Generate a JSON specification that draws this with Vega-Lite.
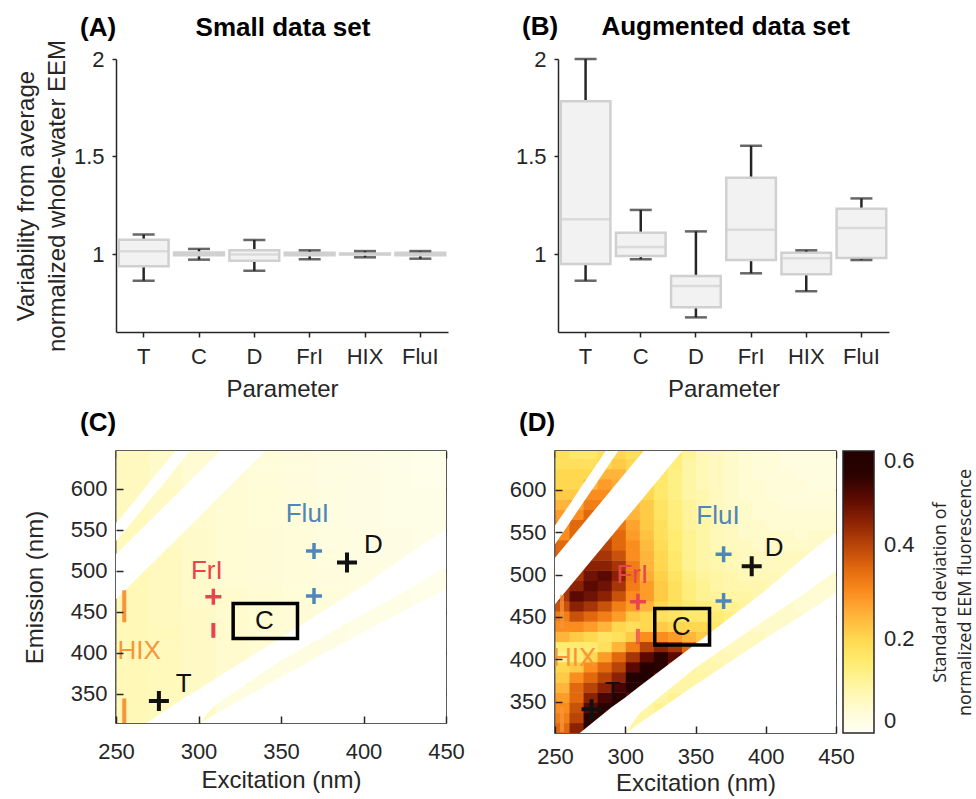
{
"$schema":"https://vega.github.io/schema/vega-lite/v6.json",
"background":"white",
"padding":{"left":14,"top":14,"right":0,"bottom":0},
"config":{
"font":"Liberation Sans",
"view":{"stroke":null},
"axis":{"labelFontSize":22,"titleFontSize":24,"labelColor":"#262626","titleColor":"#262626","domainColor":"#262626","tickColor":"#262626","titleFontWeight":"normal","grid":false,"domainWidth":1.5,"tickWidth":1.5,"labelFont":"Liberation Sans","titleFont":"Liberation Sans"},
"title":{"fontSize":26,"fontWeight":"bold","color":"#000","anchor":"start","frame":"group","font":"Liberation Sans"}
},
"datasets":{
"boxA":[
{"param":"T","lo":0.863,"q1":0.937,"med":1.014,"q3":1.073,"hi":1.1},
{"param":"C","lo":0.971,"q1":0.993,"med":1.0,"q3":1.008,"hi":1.026},
{"param":"D","lo":0.914,"q1":0.966,"med":0.998,"q3":1.019,"hi":1.072},
{"param":"FrI","lo":0.973,"q1":0.993,"med":1.0,"q3":1.007,"hi":1.019},
{"param":"HIX","lo":0.983,"q1":0.997,"med":1.0,"q3":1.003,"hi":1.015},
{"param":"FluI","lo":0.976,"q1":0.994,"med":1.0,"q3":1.006,"hi":1.015}],
"boxB":[
{"param":"T","lo":0.863,"q1":0.949,"med":1.178,"q3":1.783,"hi":2.0},
{"param":"C","lo":0.973,"q1":0.99,"med":1.036,"q3":1.109,"hi":1.226},
{"param":"D","lo":0.675,"q1":0.727,"med":0.836,"q3":0.887,"hi":1.116},
{"param":"FrI","lo":0.901,"q1":0.969,"med":1.125,"q3":1.391,"hi":1.555},
{"param":"HIX","lo":0.809,"q1":0.896,"med":0.978,"q3":1.007,"hi":1.019},
{"param":"FluI","lo":0.969,"q1":0.979,"med":1.133,"q3":1.232,"hi":1.285}],
"crossBig":[{"g":"T","ex":276,"em":341},{"g":"D","ex":390,"em":510}],
"crossSmall":[{"g":"FluI","ex":370,"em":524},{"g":"FluI","ex":370,"em":469},{"g":"FrI","ex":309,"em":468}],
"bars":[{"g":"HIX","ex":255,"lo":437,"hi":476},{"g":"HIX","ex":255,"lo":314,"hi":344},{"g":"FrI","ex":309,"lo":418,"hi":436}],
"labels":[{"g":"T","t":"T","ex":291,"em":362},{"g":"D","t":"D","ex":406,"em":531},{"g":"FluI","t":"FluI","ex":366,"em":569},{"g":"FrI","t":"FrI","ex":305,"em":500},{"g":"HIX","t":"HIX","ex":264,"em":402},{"g":"C","t":"C","ex":340,"em":438}],
"cbox":[{"ex1":321,"ex2":360,"em1":417,"em2":460}],
"maskW1":[{"ex":250,"lo":300,"hi":285},{"ex":258,"lo":300,"hi":300},{"ex":290,"lo":300,"hi":343},{"ex":300,"lo":313,"hi":355},{"ex":310,"lo":336,"hi":368},{"ex":350,"lo":390,"hi":418},{"ex":398,"lo":445,"hi":479},{"ex":430,"lo":480,"hi":524},{"ex":452,"lo":507,"hi":553}],
"maskW2":[{"ex":300,"lo":300,"hi":313},{"ex":350,"lo":300,"hi":370},{"ex":400,"lo":300,"hi":425},{"ex":452,"lo":300,"hi":480}],
"maskThick":[{"ex":245,"lo":455,"hi":510},{"ex":345,"lo":655,"hi":710}],
"maskThin":[{"ex":245,"lo":524,"hi":546},{"ex":250,"lo":536,"hi":558},{"ex":260,"lo":560,"hi":582},{"ex":270,"lo":585,"hi":607},{"ex":280,"lo":609,"hi":631},{"ex":290,"lo":634,"hi":656},{"ex":300,"lo":658,"hi":680}],
"heatC":[
{"ex":250,"em":313,"v":0.08},{"ex":250,"em":337,"v":0.08},{"ex":250,"em":361,"v":0.08},{"ex":250,"em":385,"v":0.08},{"ex":250,"em":409,"v":0.08},{"ex":250,"em":433,"v":0.08},{"ex":250,"em":457,"v":0.08},{"ex":250,"em":481,"v":0.08},{"ex":250,"em":505,"v":0.075},{"ex":250,"em":529,"v":0.075},{"ex":250,"em":553,"v":0.075},{"ex":250,"em":577,"v":0.07},{"ex":250,"em":601,"v":0.07},{"ex":250,"em":625,"v":0.07},
{"ex":270,"em":313,"v":0.075},{"ex":270,"em":337,"v":0.075},{"ex":270,"em":361,"v":0.075},{"ex":270,"em":385,"v":0.075},{"ex":270,"em":409,"v":0.075},{"ex":270,"em":433,"v":0.07},{"ex":270,"em":457,"v":0.07},{"ex":270,"em":481,"v":0.07},{"ex":270,"em":505,"v":0.07},{"ex":270,"em":529,"v":0.065},{"ex":270,"em":553,"v":0.065},{"ex":270,"em":577,"v":0.065},{"ex":270,"em":601,"v":0.06},{"ex":270,"em":625,"v":0.06},
{"ex":290,"em":313,"v":0.065},{"ex":290,"em":337,"v":0.065},{"ex":290,"em":361,"v":0.065},{"ex":290,"em":385,"v":0.065},{"ex":290,"em":409,"v":0.065},{"ex":290,"em":433,"v":0.065},{"ex":290,"em":457,"v":0.06},{"ex":290,"em":481,"v":0.06},{"ex":290,"em":505,"v":0.06},{"ex":290,"em":529,"v":0.06},{"ex":290,"em":553,"v":0.055},{"ex":290,"em":577,"v":0.055},{"ex":290,"em":601,"v":0.05},{"ex":290,"em":625,"v":0.05},
{"ex":310,"em":313,"v":0.03},{"ex":310,"em":337,"v":0.03},{"ex":310,"em":361,"v":0.055},{"ex":310,"em":385,"v":0.055},{"ex":310,"em":409,"v":0.055},{"ex":310,"em":433,"v":0.055},{"ex":310,"em":457,"v":0.055},{"ex":310,"em":481,"v":0.05},{"ex":310,"em":505,"v":0.05},{"ex":310,"em":529,"v":0.05},{"ex":310,"em":553,"v":0.05},{"ex":310,"em":577,"v":0.048},{"ex":310,"em":601,"v":0.045},{"ex":310,"em":625,"v":0.045},
{"ex":330,"em":313,"v":0.03},{"ex":330,"em":337,"v":0.03},{"ex":330,"em":361,"v":0.03},{"ex":330,"em":385,"v":0.05},{"ex":330,"em":409,"v":0.05},{"ex":330,"em":433,"v":0.048},{"ex":330,"em":457,"v":0.048},{"ex":330,"em":481,"v":0.045},{"ex":330,"em":505,"v":0.045},{"ex":330,"em":529,"v":0.045},{"ex":330,"em":553,"v":0.042},{"ex":330,"em":577,"v":0.042},{"ex":330,"em":601,"v":0.04},{"ex":330,"em":625,"v":0.04},
{"ex":350,"em":313,"v":0.028},{"ex":350,"em":337,"v":0.028},{"ex":350,"em":361,"v":0.028},{"ex":350,"em":385,"v":0.028},{"ex":350,"em":409,"v":0.045},{"ex":350,"em":433,"v":0.045},{"ex":350,"em":457,"v":0.042},{"ex":350,"em":481,"v":0.04},{"ex":350,"em":505,"v":0.04},{"ex":350,"em":529,"v":0.038},{"ex":350,"em":553,"v":0.038},{"ex":350,"em":577,"v":0.036},{"ex":350,"em":601,"v":0.035},{"ex":350,"em":625,"v":0.034},
{"ex":370,"em":313,"v":0.025},{"ex":370,"em":337,"v":0.025},{"ex":370,"em":361,"v":0.025},{"ex":370,"em":385,"v":0.025},{"ex":370,"em":409,"v":0.025},{"ex":370,"em":433,"v":0.038},{"ex":370,"em":457,"v":0.036},{"ex":370,"em":481,"v":0.034},{"ex":370,"em":505,"v":0.033},{"ex":370,"em":529,"v":0.032},{"ex":370,"em":553,"v":0.031},{"ex":370,"em":577,"v":0.03},{"ex":370,"em":601,"v":0.028},{"ex":370,"em":625,"v":0.028},
{"ex":390,"em":313,"v":0.022},{"ex":390,"em":337,"v":0.022},{"ex":390,"em":361,"v":0.022},{"ex":390,"em":385,"v":0.022},{"ex":390,"em":409,"v":0.022},{"ex":390,"em":433,"v":0.022},{"ex":390,"em":457,"v":0.03},{"ex":390,"em":481,"v":0.03},{"ex":390,"em":505,"v":0.028},{"ex":390,"em":529,"v":0.027},{"ex":390,"em":553,"v":0.026},{"ex":390,"em":577,"v":0.025},{"ex":390,"em":601,"v":0.024},{"ex":390,"em":625,"v":0.024},
{"ex":410,"em":313,"v":0.02},{"ex":410,"em":337,"v":0.02},{"ex":410,"em":361,"v":0.02},{"ex":410,"em":385,"v":0.02},{"ex":410,"em":409,"v":0.02},{"ex":410,"em":433,"v":0.02},{"ex":410,"em":457,"v":0.02},{"ex":410,"em":481,"v":0.025},{"ex":410,"em":505,"v":0.025},{"ex":410,"em":529,"v":0.024},{"ex":410,"em":553,"v":0.023},{"ex":410,"em":577,"v":0.022},{"ex":410,"em":601,"v":0.021},{"ex":410,"em":625,"v":0.02},
{"ex":430,"em":313,"v":0.018},{"ex":430,"em":337,"v":0.018},{"ex":430,"em":361,"v":0.018},{"ex":430,"em":385,"v":0.018},{"ex":430,"em":409,"v":0.018},{"ex":430,"em":433,"v":0.018},{"ex":430,"em":457,"v":0.018},{"ex":430,"em":481,"v":0.018},{"ex":430,"em":505,"v":0.022},{"ex":430,"em":529,"v":0.021},{"ex":430,"em":553,"v":0.02},{"ex":430,"em":577,"v":0.02},{"ex":430,"em":601,"v":0.019},{"ex":430,"em":625,"v":0.018}
],
"heatD":[
{"ex":250,"em":313,"v":0.35},{"ex":250,"em":325,"v":0.32},{"ex":250,"em":337,"v":0.3},{"ex":250,"em":349,"v":0.28},{"ex":250,"em":361,"v":0.25},{"ex":250,"em":373,"v":0.22},{"ex":250,"em":385,"v":0.2},{"ex":250,"em":397,"v":0.12},{"ex":250,"em":409,"v":0.15},{"ex":250,"em":421,"v":0.25},{"ex":250,"em":433,"v":0.3},{"ex":250,"em":445,"v":0.32},{"ex":250,"em":457,"v":0.38},{"ex":250,"em":469,"v":0.42},{"ex":250,"em":481,"v":0.42},{"ex":250,"em":493,"v":0.4},{"ex":250,"em":505,"v":0.38},{"ex":250,"em":517,"v":0.36},{"ex":250,"em":529,"v":0.35},{"ex":250,"em":541,"v":0.3},{"ex":250,"em":553,"v":0.3},{"ex":250,"em":565,"v":0.28},{"ex":250,"em":577,"v":0.25},{"ex":250,"em":589,"v":0.22},{"ex":250,"em":601,"v":0.2},{"ex":250,"em":613,"v":0.2},{"ex":250,"em":625,"v":0.18},{"ex":250,"em":637,"v":0.18},
{"ex":260,"em":313,"v":0.45},{"ex":260,"em":325,"v":0.4},{"ex":260,"em":337,"v":0.38},{"ex":260,"em":349,"v":0.35},{"ex":260,"em":361,"v":0.35},{"ex":260,"em":373,"v":0.3},{"ex":260,"em":385,"v":0.22},{"ex":260,"em":397,"v":0.15},{"ex":260,"em":409,"v":0.15},{"ex":260,"em":421,"v":0.22},{"ex":260,"em":433,"v":0.3},{"ex":260,"em":445,"v":0.38},{"ex":260,"em":457,"v":0.45},{"ex":260,"em":469,"v":0.5},{"ex":260,"em":481,"v":0.45},{"ex":260,"em":493,"v":0.42},{"ex":260,"em":505,"v":0.4},{"ex":260,"em":517,"v":0.38},{"ex":260,"em":529,"v":0.36},{"ex":260,"em":541,"v":0.35},{"ex":260,"em":553,"v":0.35},{"ex":260,"em":565,"v":0.3},{"ex":260,"em":577,"v":0.27},{"ex":260,"em":589,"v":0.22},{"ex":260,"em":601,"v":0.2},{"ex":260,"em":613,"v":0.2},{"ex":260,"em":625,"v":0.18},{"ex":260,"em":637,"v":0.16},
{"ex":270,"em":313,"v":0.55},{"ex":270,"em":325,"v":0.55},{"ex":270,"em":337,"v":0.5},{"ex":270,"em":349,"v":0.45},{"ex":270,"em":361,"v":0.4},{"ex":270,"em":373,"v":0.35},{"ex":270,"em":385,"v":0.3},{"ex":270,"em":397,"v":0.2},{"ex":270,"em":409,"v":0.15},{"ex":270,"em":421,"v":0.2},{"ex":270,"em":433,"v":0.28},{"ex":270,"em":445,"v":0.35},{"ex":270,"em":457,"v":0.42},{"ex":270,"em":469,"v":0.48},{"ex":270,"em":481,"v":0.5},{"ex":270,"em":493,"v":0.48},{"ex":270,"em":505,"v":0.45},{"ex":270,"em":517,"v":0.42},{"ex":270,"em":529,"v":0.4},{"ex":270,"em":541,"v":0.38},{"ex":270,"em":553,"v":0.36},{"ex":270,"em":565,"v":0.35},{"ex":270,"em":577,"v":0.32},{"ex":270,"em":589,"v":0.3},{"ex":270,"em":601,"v":0.25},{"ex":270,"em":613,"v":0.2},{"ex":270,"em":625,"v":0.18},{"ex":270,"em":637,"v":0.16},
{"ex":280,"em":325,"v":0.55},{"ex":280,"em":337,"v":0.55},{"ex":280,"em":349,"v":0.52},{"ex":280,"em":361,"v":0.45},{"ex":280,"em":373,"v":0.4},{"ex":280,"em":385,"v":0.35},{"ex":280,"em":397,"v":0.28},{"ex":280,"em":409,"v":0.18},{"ex":280,"em":421,"v":0.17},{"ex":280,"em":433,"v":0.25},{"ex":280,"em":445,"v":0.32},{"ex":280,"em":457,"v":0.38},{"ex":280,"em":469,"v":0.45},{"ex":280,"em":481,"v":0.48},{"ex":280,"em":493,"v":0.5},{"ex":280,"em":505,"v":0.45},{"ex":280,"em":517,"v":0.42},{"ex":280,"em":529,"v":0.4},{"ex":280,"em":541,"v":0.38},{"ex":280,"em":553,"v":0.36},{"ex":280,"em":565,"v":0.34},{"ex":280,"em":577,"v":0.32},{"ex":280,"em":589,"v":0.3},{"ex":280,"em":601,"v":0.28},{"ex":280,"em":613,"v":0.25},{"ex":280,"em":625,"v":0.2},{"ex":280,"em":637,"v":0.18},
{"ex":290,"em":337,"v":0.55},{"ex":290,"em":349,"v":0.55},{"ex":290,"em":361,"v":0.52},{"ex":290,"em":373,"v":0.45},{"ex":290,"em":385,"v":0.4},{"ex":290,"em":397,"v":0.35},{"ex":290,"em":409,"v":0.25},{"ex":290,"em":421,"v":0.18},{"ex":290,"em":433,"v":0.2},{"ex":290,"em":445,"v":0.28},{"ex":290,"em":457,"v":0.32},{"ex":290,"em":469,"v":0.38},{"ex":290,"em":481,"v":0.42},{"ex":290,"em":493,"v":0.45},{"ex":290,"em":505,"v":0.42},{"ex":290,"em":517,"v":0.38},{"ex":290,"em":529,"v":0.35},{"ex":290,"em":541,"v":0.35},{"ex":290,"em":553,"v":0.33},{"ex":290,"em":565,"v":0.31},{"ex":290,"em":577,"v":0.29},{"ex":290,"em":589,"v":0.27},{"ex":290,"em":601,"v":0.26},{"ex":290,"em":613,"v":0.25},{"ex":290,"em":625,"v":0.22},{"ex":290,"em":637,"v":0.2},
{"ex":300,"em":313,"v":0.1},{"ex":300,"em":325,"v":0.1},{"ex":300,"em":337,"v":0.1},{"ex":300,"em":349,"v":0.5},{"ex":300,"em":361,"v":0.58},{"ex":300,"em":373,"v":0.6},{"ex":300,"em":385,"v":0.5},{"ex":300,"em":397,"v":0.42},{"ex":300,"em":409,"v":0.32},{"ex":300,"em":421,"v":0.22},{"ex":300,"em":433,"v":0.18},{"ex":300,"em":445,"v":0.22},{"ex":300,"em":457,"v":0.28},{"ex":300,"em":469,"v":0.3},{"ex":300,"em":481,"v":0.32},{"ex":300,"em":493,"v":0.33},{"ex":300,"em":505,"v":0.32},{"ex":300,"em":517,"v":0.3},{"ex":300,"em":529,"v":0.3},{"ex":300,"em":541,"v":0.28},{"ex":300,"em":553,"v":0.27},{"ex":300,"em":565,"v":0.25},{"ex":300,"em":577,"v":0.24},{"ex":300,"em":589,"v":0.23},{"ex":300,"em":601,"v":0.22},{"ex":300,"em":613,"v":0.21},{"ex":300,"em":625,"v":0.2},{"ex":300,"em":637,"v":0.18},
{"ex":310,"em":313,"v":0.1},{"ex":310,"em":325,"v":0.1},{"ex":310,"em":337,"v":0.1},{"ex":310,"em":349,"v":0.1},{"ex":310,"em":361,"v":0.55},{"ex":310,"em":373,"v":0.6},{"ex":310,"em":385,"v":0.58},{"ex":310,"em":397,"v":0.5},{"ex":310,"em":409,"v":0.4},{"ex":310,"em":421,"v":0.3},{"ex":310,"em":433,"v":0.2},{"ex":310,"em":445,"v":0.2},{"ex":310,"em":457,"v":0.25},{"ex":310,"em":469,"v":0.28},{"ex":310,"em":481,"v":0.28},{"ex":310,"em":493,"v":0.26},{"ex":310,"em":505,"v":0.25},{"ex":310,"em":517,"v":0.25},{"ex":310,"em":529,"v":0.24},{"ex":310,"em":541,"v":0.23},{"ex":310,"em":553,"v":0.22},{"ex":310,"em":565,"v":0.22},{"ex":310,"em":577,"v":0.22},{"ex":310,"em":589,"v":0.2},{"ex":310,"em":601,"v":0.2},{"ex":310,"em":613,"v":0.2},{"ex":310,"em":625,"v":0.2},{"ex":310,"em":637,"v":0.2},
{"ex":320,"em":325,"v":0.1},{"ex":320,"em":337,"v":0.12},{"ex":320,"em":349,"v":0.1},{"ex":320,"em":361,"v":0.1},{"ex":320,"em":373,"v":0.5},{"ex":320,"em":385,"v":0.55},{"ex":320,"em":397,"v":0.55},{"ex":320,"em":409,"v":0.45},{"ex":320,"em":421,"v":0.3},{"ex":320,"em":433,"v":0.22},{"ex":320,"em":445,"v":0.18},{"ex":320,"em":457,"v":0.2},{"ex":320,"em":469,"v":0.22},{"ex":320,"em":481,"v":0.22},{"ex":320,"em":493,"v":0.21},{"ex":320,"em":505,"v":0.2},{"ex":320,"em":517,"v":0.2},{"ex":320,"em":529,"v":0.19},{"ex":320,"em":541,"v":0.18},{"ex":320,"em":553,"v":0.18},{"ex":320,"em":565,"v":0.17},{"ex":320,"em":577,"v":0.17},{"ex":320,"em":589,"v":0.16},{"ex":320,"em":601,"v":0.16},{"ex":320,"em":613,"v":0.16},{"ex":320,"em":625,"v":0.16},{"ex":320,"em":637,"v":0.16},
{"ex":330,"em":337,"v":0.12},{"ex":330,"em":349,"v":0.12},{"ex":330,"em":361,"v":0.1},{"ex":330,"em":373,"v":0.1},{"ex":330,"em":385,"v":0.45},{"ex":330,"em":397,"v":0.5},{"ex":330,"em":409,"v":0.42},{"ex":330,"em":421,"v":0.28},{"ex":330,"em":433,"v":0.2},{"ex":330,"em":445,"v":0.17},{"ex":330,"em":457,"v":0.17},{"ex":330,"em":469,"v":0.18},{"ex":330,"em":481,"v":0.18},{"ex":330,"em":493,"v":0.17},{"ex":330,"em":505,"v":0.16},{"ex":330,"em":517,"v":0.16},{"ex":330,"em":529,"v":0.15},{"ex":330,"em":541,"v":0.15},{"ex":330,"em":553,"v":0.14},{"ex":330,"em":565,"v":0.14},{"ex":330,"em":577,"v":0.14},{"ex":330,"em":589,"v":0.13},{"ex":330,"em":601,"v":0.13},{"ex":330,"em":613,"v":0.13},{"ex":330,"em":625,"v":0.14},{"ex":330,"em":637,"v":0.14},
{"ex":340,"em":349,"v":0.1},{"ex":340,"em":361,"v":0.1},{"ex":340,"em":373,"v":0.1},{"ex":340,"em":385,"v":0.1},{"ex":340,"em":397,"v":0.4},{"ex":340,"em":409,"v":0.35},{"ex":340,"em":421,"v":0.25},{"ex":340,"em":433,"v":0.2},{"ex":340,"em":445,"v":0.16},{"ex":340,"em":457,"v":0.15},{"ex":340,"em":469,"v":0.14},{"ex":340,"em":481,"v":0.14},{"ex":340,"em":493,"v":0.13},{"ex":340,"em":505,"v":0.12},{"ex":340,"em":517,"v":0.12},{"ex":340,"em":529,"v":0.12},{"ex":340,"em":541,"v":0.12},{"ex":340,"em":553,"v":0.11},{"ex":340,"em":565,"v":0.11},{"ex":340,"em":577,"v":0.11},{"ex":340,"em":589,"v":0.1},{"ex":340,"em":601,"v":0.1},{"ex":340,"em":613,"v":0.1},{"ex":340,"em":625,"v":0.1},{"ex":340,"em":637,"v":0.11},
{"ex":350,"em":361,"v":0.1},{"ex":350,"em":373,"v":0.1},{"ex":350,"em":385,"v":0.09},{"ex":350,"em":397,"v":0.09},{"ex":350,"em":409,"v":0.25},{"ex":350,"em":421,"v":0.22},{"ex":350,"em":433,"v":0.2},{"ex":350,"em":445,"v":0.16},{"ex":350,"em":457,"v":0.14},{"ex":350,"em":469,"v":0.12},{"ex":350,"em":481,"v":0.12},{"ex":350,"em":493,"v":0.11},{"ex":350,"em":505,"v":0.1},{"ex":350,"em":517,"v":0.1},{"ex":350,"em":529,"v":0.1},{"ex":350,"em":541,"v":0.1},{"ex":350,"em":553,"v":0.1},{"ex":350,"em":565,"v":0.09},{"ex":350,"em":577,"v":0.09},{"ex":350,"em":589,"v":0.09},{"ex":350,"em":601,"v":0.08},{"ex":350,"em":613,"v":0.08},{"ex":350,"em":625,"v":0.08},{"ex":350,"em":637,"v":0.08},
{"ex":360,"em":373,"v":0.09},{"ex":360,"em":385,"v":0.09},{"ex":360,"em":397,"v":0.08},{"ex":360,"em":409,"v":0.08},{"ex":360,"em":421,"v":0.17},{"ex":360,"em":433,"v":0.16},{"ex":360,"em":445,"v":0.15},{"ex":360,"em":457,"v":0.13},{"ex":360,"em":469,"v":0.11},{"ex":360,"em":481,"v":0.1},{"ex":360,"em":493,"v":0.1},{"ex":360,"em":505,"v":0.09},{"ex":360,"em":517,"v":0.09},{"ex":360,"em":529,"v":0.08},{"ex":360,"em":541,"v":0.08},{"ex":360,"em":553,"v":0.08},{"ex":360,"em":565,"v":0.08},{"ex":360,"em":577,"v":0.07},{"ex":360,"em":589,"v":0.07},{"ex":360,"em":601,"v":0.07},{"ex":360,"em":613,"v":0.07},{"ex":360,"em":625,"v":0.07},{"ex":360,"em":637,"v":0.07},
{"ex":370,"em":385,"v":0.08},{"ex":370,"em":397,"v":0.08},{"ex":370,"em":409,"v":0.07},{"ex":370,"em":421,"v":0.07},{"ex":370,"em":433,"v":0.14},{"ex":370,"em":445,"v":0.13},{"ex":370,"em":457,"v":0.12},{"ex":370,"em":469,"v":0.1},{"ex":370,"em":481,"v":0.09},{"ex":370,"em":493,"v":0.09},{"ex":370,"em":505,"v":0.08},{"ex":370,"em":517,"v":0.08},{"ex":370,"em":529,"v":0.07},{"ex":370,"em":541,"v":0.07},{"ex":370,"em":553,"v":0.07},{"ex":370,"em":565,"v":0.07},{"ex":370,"em":577,"v":0.06},{"ex":370,"em":589,"v":0.06},{"ex":370,"em":601,"v":0.06},{"ex":370,"em":613,"v":0.06},{"ex":370,"em":625,"v":0.06},{"ex":370,"em":637,"v":0.06},
{"ex":380,"em":397,"v":0.07},{"ex":380,"em":409,"v":0.07},{"ex":380,"em":421,"v":0.07},{"ex":380,"em":433,"v":0.07},{"ex":380,"em":445,"v":0.12},{"ex":380,"em":457,"v":0.11},{"ex":380,"em":469,"v":0.1},{"ex":380,"em":481,"v":0.09},{"ex":380,"em":493,"v":0.08},{"ex":380,"em":505,"v":0.08},{"ex":380,"em":517,"v":0.07},{"ex":380,"em":529,"v":0.07},{"ex":380,"em":541,"v":0.06},{"ex":380,"em":553,"v":0.06},{"ex":380,"em":565,"v":0.06},{"ex":380,"em":577,"v":0.06},{"ex":380,"em":589,"v":0.05},{"ex":380,"em":601,"v":0.05},{"ex":380,"em":613,"v":0.05},{"ex":380,"em":625,"v":0.05},{"ex":380,"em":637,"v":0.05},
{"ex":390,"em":409,"v":0.07},{"ex":390,"em":421,"v":0.07},{"ex":390,"em":433,"v":0.06},{"ex":390,"em":445,"v":0.06},{"ex":390,"em":457,"v":0.1},{"ex":390,"em":469,"v":0.09},{"ex":390,"em":481,"v":0.09},{"ex":390,"em":493,"v":0.08},{"ex":390,"em":505,"v":0.07},{"ex":390,"em":517,"v":0.07},{"ex":390,"em":529,"v":0.06},{"ex":390,"em":541,"v":0.06},{"ex":390,"em":553,"v":0.06},{"ex":390,"em":565,"v":0.05},{"ex":390,"em":577,"v":0.05},{"ex":390,"em":589,"v":0.05},{"ex":390,"em":601,"v":0.05},{"ex":390,"em":613,"v":0.04},{"ex":390,"em":625,"v":0.04},{"ex":390,"em":637,"v":0.04},
{"ex":400,"em":421,"v":0.06},{"ex":400,"em":433,"v":0.06},{"ex":400,"em":445,"v":0.06},{"ex":400,"em":457,"v":0.06},{"ex":400,"em":469,"v":0.08},{"ex":400,"em":481,"v":0.08},{"ex":400,"em":493,"v":0.08},{"ex":400,"em":505,"v":0.07},{"ex":400,"em":517,"v":0.07},{"ex":400,"em":529,"v":0.06},{"ex":400,"em":541,"v":0.06},{"ex":400,"em":553,"v":0.05},{"ex":400,"em":565,"v":0.05},{"ex":400,"em":577,"v":0.05},{"ex":400,"em":589,"v":0.04},{"ex":400,"em":601,"v":0.04},{"ex":400,"em":613,"v":0.04},{"ex":400,"em":625,"v":0.04},{"ex":400,"em":637,"v":0.04},
{"ex":410,"em":433,"v":0.06},{"ex":410,"em":445,"v":0.06},{"ex":410,"em":457,"v":0.06},{"ex":410,"em":469,"v":0.06},{"ex":410,"em":481,"v":0.07},{"ex":410,"em":493,"v":0.07},{"ex":410,"em":505,"v":0.07},{"ex":410,"em":517,"v":0.07},{"ex":410,"em":529,"v":0.06},{"ex":410,"em":541,"v":0.06},{"ex":410,"em":553,"v":0.05},{"ex":410,"em":565,"v":0.05},{"ex":410,"em":577,"v":0.04},{"ex":410,"em":589,"v":0.04},{"ex":410,"em":601,"v":0.04},{"ex":410,"em":613,"v":0.04},{"ex":410,"em":625,"v":0.03},{"ex":410,"em":637,"v":0.03},
{"ex":420,"em":445,"v":0.06},{"ex":420,"em":457,"v":0.05},{"ex":420,"em":469,"v":0.05},{"ex":420,"em":481,"v":0.05},{"ex":420,"em":493,"v":0.07},{"ex":420,"em":505,"v":0.07},{"ex":420,"em":517,"v":0.07},{"ex":420,"em":529,"v":0.06},{"ex":420,"em":541,"v":0.05},{"ex":420,"em":553,"v":0.05},{"ex":420,"em":565,"v":0.05},{"ex":420,"em":577,"v":0.04},{"ex":420,"em":589,"v":0.04},{"ex":420,"em":601,"v":0.04},{"ex":420,"em":613,"v":0.03},{"ex":420,"em":625,"v":0.03},{"ex":420,"em":637,"v":0.03},
{"ex":430,"em":457,"v":0.05},{"ex":430,"em":469,"v":0.05},{"ex":430,"em":481,"v":0.05},{"ex":430,"em":493,"v":0.05},{"ex":430,"em":505,"v":0.06},{"ex":430,"em":517,"v":0.06},{"ex":430,"em":529,"v":0.06},{"ex":430,"em":541,"v":0.06},{"ex":430,"em":553,"v":0.05},{"ex":430,"em":565,"v":0.05},{"ex":430,"em":577,"v":0.04},{"ex":430,"em":589,"v":0.04},{"ex":430,"em":601,"v":0.03},{"ex":430,"em":613,"v":0.03},{"ex":430,"em":625,"v":0.03},{"ex":430,"em":637,"v":0.03},
{"ex":440,"em":457,"v":0.05},{"ex":440,"em":469,"v":0.05},{"ex":440,"em":481,"v":0.05},{"ex":440,"em":493,"v":0.05},{"ex":440,"em":505,"v":0.05},{"ex":440,"em":517,"v":0.05},{"ex":440,"em":529,"v":0.06},{"ex":440,"em":541,"v":0.06},{"ex":440,"em":553,"v":0.05},{"ex":440,"em":565,"v":0.05},{"ex":440,"em":577,"v":0.04},{"ex":440,"em":589,"v":0.04},{"ex":440,"em":601,"v":0.03},{"ex":440,"em":613,"v":0.03},{"ex":440,"em":625,"v":0.03},{"ex":440,"em":637,"v":0.03}
]
},
"spacing":8,
"resolve":{"scale":{"color":"independent"}},
"vconcat":[
{"hconcat":[
{"width":332,"height":273,
"title":{"text":"(A)\u00a0\u00a0\u00a0\u00a0\u00a0\u00a0\u00a0\u00a0\u00a0\u00a0\u00a0Small data set","dx":-36,"offset":-2},
"data":{"name":"boxA"},
"encoding":{"x":{"field":"param","type":"nominal","sort":["T","C","D","FrI","HIX","FluI"],"scale":{"paddingInner":0,"paddingOuter":0},"axis":{"labelAngle":0,"title":"Parameter","tickSize":5,"labelPadding":9,"titlePadding":10,"domainColor":"#262626"}}},
"layer":[
{"mark":{"type":"rule","color":"#262626","strokeWidth":2.5},"encoding":{"y":{"field":"lo","type":"quantitative","title":["Variability from average","normalized whole-water EEM"],"scale":{"domain":[0.6,2],"nice":false,"zero":false},"axis":{"values":[1,1.5,2],"format":"~g","tickSize":4,"labelPadding":8,"titlePadding":4,"titleLineHeight":31,"domainColor":"#262626"}},"y2":{"field":"hi"}}},
{"mark":{"type":"bar","fill":"#f2f2f2","stroke":"#d0d0d0","strokeWidth":2.5,"width":{"band":0.9}},"encoding":{"y":{"field":"q1","type":"quantitative"},"y2":{"field":"q3"}}},
{"mark":{"type":"tick","color":"#d0d0d0","thickness":2.5,"size":50},"encoding":{"y":{"field":"med","type":"quantitative"}}},
{"mark":{"type":"tick","color":"#262626","thickness":2.5,"size":22},"encoding":{"y":{"field":"lo","type":"quantitative"}}},
{"mark":{"type":"tick","color":"#262626","thickness":2.5,"size":22},"encoding":{"y":{"field":"hi","type":"quantitative"}}}
]},
{"width":331,"height":273,
"title":{"text":"(B)\u00a0\u00a0\u00a0\u00a0\u00a0\u00a0Augmented data set","dx":-36,"offset":8},
"data":{"name":"boxB"},
"encoding":{"x":{"field":"param","type":"nominal","sort":["T","C","D","FrI","HIX","FluI"],"scale":{"paddingInner":0,"paddingOuter":0},"axis":{"labelAngle":0,"title":"Parameter","tickSize":5,"labelPadding":9,"titlePadding":10,"domainColor":"#262626"}}},
"layer":[
{"mark":{"type":"rule","color":"#262626","strokeWidth":2.5},"encoding":{"y":{"field":"lo","type":"quantitative","title":null,"scale":{"domain":[0.6,2],"nice":false,"zero":false},"axis":{"values":[1,1.5,2],"format":"~g","tickSize":4,"labelPadding":8,"domainColor":"#262626"}},"y2":{"field":"hi"}}},
{"mark":{"type":"bar","fill":"#f2f2f2","stroke":"#d0d0d0","strokeWidth":2.5,"width":{"band":0.9}},"encoding":{"y":{"field":"q1","type":"quantitative"},"y2":{"field":"q3"}}},
{"mark":{"type":"tick","color":"#d0d0d0","thickness":2.5,"size":50},"encoding":{"y":{"field":"med","type":"quantitative"}}},
{"mark":{"type":"tick","color":"#262626","thickness":2.5,"size":22},"encoding":{"y":{"field":"lo","type":"quantitative"}}},
{"mark":{"type":"tick","color":"#262626","thickness":2.5,"size":22},"encoding":{"y":{"field":"hi","type":"quantitative"}}}
]}
],"spacing":67},
{"hconcat":[
{"width":330,"height":272,
"title":{"text":"(C)","dx":-36,"offset":14},
"view":{"stroke":"#262626","strokeWidth":1.5},
"resolve":{"axis":{"x":"independent","y":"independent"}},
"layer":[
{"data":{"name":"heatC"},"mark":{"type":"rect","clip":true,"strokeWidth":0},
"encoding":{
"x":{"field":"ex","type":"quantitative","bin":{"binned":true,"step":20.5},"scale":{"domain":[250,450],"nice":false,"zero":false},"axis":{"values":[250,300,350,400,450],"format":"d","title":"Excitation (nm)","tickSize":-7,"labelPadding":25,"domain":false,"labelFlush":false,"titlePadding":6}},
"y":{"field":"em","type":"quantitative","bin":{"binned":true,"step":24.5},"scale":{"domain":[314,646],"nice":false,"zero":false},"axis":{"values":[350,400,450,500,550,600],"format":"d","title":"Emission (nm)","tickSize":-7,"labelPadding":16,"domain":false,"titlePadding":23}},
"color":{"field":"v","type":"quantitative","scale":{"domain":[0,0.05,0.1,0.15,0.2,0.25,0.3,0.35,0.4,0.45,0.5,0.55,0.6],"range":["#fffff5","#fffbd2","#fff6a5","#ffec70","#ffd850","#ffb43a","#fb8c1e","#e2680e","#b84408","#8c2204","#5a0a02","#2a0200","#000000"]},"legend":null}}},
{"data":{"name":"maskW1"},"mark":{"type":"area","fill":"white","clip":true,"interpolate":"linear"},"encoding":{"x":{"field":"ex","type":"quantitative","axis":null},"y":{"field":"lo","type":"quantitative","axis":null},"y2":{"field":"hi"}}},
{"data":{"name":"maskW2"},"mark":{"type":"area","fill":"white","clip":true,"interpolate":"linear"},"encoding":{"x":{"field":"ex","type":"quantitative","axis":null},"y":{"field":"lo","type":"quantitative","axis":null},"y2":{"field":"hi"}}},
{"data":{"name":"maskThick"},"mark":{"type":"area","fill":"white","clip":true,"interpolate":"linear"},"encoding":{"x":{"field":"ex","type":"quantitative","axis":null},"y":{"field":"lo","type":"quantitative","axis":null},"y2":{"field":"hi"}}},
{"data":{"name":"maskThin"},"mark":{"type":"area","fill":"white","clip":true,"interpolate":"linear"},"encoding":{"x":{"field":"ex","type":"quantitative","axis":null},"y":{"field":"lo","type":"quantitative","axis":null},"y2":{"field":"hi"}}},
{"data":{"name":"cbox"},"mark":{"type":"rect","fillOpacity":0,"stroke":"#000","strokeWidth":3.5},
"encoding":{
"x":{"field":"ex1","type":"quantitative","axis":{"orient":"top","labels":false,"title":null,"domain":false,"tickSize":-7,"values":[250,300,350,400,450]}},
"x2":{"field":"ex2"},
"y":{"field":"em1","type":"quantitative","axis":{"orient":"right","labels":false,"title":null,"domain":false,"tickSize":-7,"values":[350,400,450,500,550,600]}},
"y2":{"field":"em2"}}},
{"data":{"name":"crossBig"},"mark":{"type":"point","shape":"M-1,0H1M0,-1V1","size":400,"strokeWidth":4,"filled":false,"opacity":1},
"encoding":{"x":{"field":"ex","type":"quantitative","axis":null},"y":{"field":"em","type":"quantitative","axis":null},
"stroke":{"field":"g","type":"nominal","scale":{"domain":["T","D","C","FluI","FrI","HIX"],"range":["#111111","#111111","#111111","#4f87ba","#e8434e","#f7953b"]},"legend":null}}},
{"data":{"name":"crossSmall"},"mark":{"type":"point","shape":"M-1,0H1M0,-1V1","size":256,"strokeWidth":3.5,"filled":false,"opacity":1},
"encoding":{"x":{"field":"ex","type":"quantitative","axis":null},"y":{"field":"em","type":"quantitative","axis":null},
"stroke":{"field":"g","type":"nominal","legend":null}}},
{"data":{"name":"bars"},"mark":{"type":"rule","strokeWidth":4},
"encoding":{"x":{"field":"ex","type":"quantitative","axis":null},"y":{"field":"lo","type":"quantitative","axis":null},"y2":{"field":"hi"},
"stroke":{"field":"g","type":"nominal","legend":null}}},
{"data":{"name":"labels"},"mark":{"type":"text","fontSize":26,"align":"center","baseline":"middle","font":"Liberation Sans"},
"encoding":{"x":{"field":"ex","type":"quantitative","axis":null},"y":{"field":"em","type":"quantitative","axis":null},"text":{"field":"t"},
"fill":{"field":"g","type":"nominal","scale":{"domain":["T","D","C","FluI","FrI","HIX"],"range":["#111111","#111111","#111111","#4f87ba","#e8434e","#f7953b"]},"legend":null}}}
]},
{"width":281,"height":282,
"title":{"text":"(D)","dx":-36,"offset":14},
"view":{"stroke":"#262626","strokeWidth":1.5},
"resolve":{"axis":{"x":"independent","y":"independent"}},
"layer":[
{"data":{"name":"heatD"},"mark":{"type":"rect","clip":true,"strokeWidth":0},
"encoding":{
"x":{"field":"ex","type":"quantitative","bin":{"binned":true,"step":10.6},"scale":{"domain":[250,450],"nice":false,"zero":false},"axis":{"values":[250,300,350,400,450],"format":"d","title":"Excitation (nm)","tickSize":-7,"labelPadding":20,"domain":false,"labelFlush":false,"titlePadding":4}},
"y":{"field":"em","type":"quantitative","bin":{"binned":true,"step":12.6},"scale":{"domain":[313,646],"nice":false,"zero":false},"axis":{"values":[350,400,450,500,550,600],"format":"d","title":null,"tickSize":-7,"labelPadding":16,"domain":false}},
"color":{"field":"v","type":"quantitative","scale":{"domain":[0,0.05,0.1,0.15,0.2,0.25,0.3,0.35,0.4,0.45,0.5,0.55,0.6],"range":["#fffff5","#fffbd2","#fff6a5","#ffec70","#ffd850","#ffb43a","#fb8c1e","#e2680e","#b84408","#8c2204","#5a0a02","#2a0200","#000000"]},
"legend":{"orient":"none","legendX":288,"legendY":0,"direction":"vertical","gradientLength":282,"gradientThickness":31,"values":[0,0.2,0.4,0.6],"format":"~g","labelFontSize":22,"labelColor":"#262626","labelOffset":10,"labelFont":"Liberation Sans","title":null,"gradientStrokeColor":"#262626","gradientStrokeWidth":1.5}}}},
{"data":{"name":"maskW1"},"mark":{"type":"area","fill":"white","clip":true,"interpolate":"linear"},"encoding":{"x":{"field":"ex","type":"quantitative","axis":null},"y":{"field":"lo","type":"quantitative","axis":null},"y2":{"field":"hi"}}},
{"data":{"name":"maskW2"},"mark":{"type":"area","fill":"white","clip":true,"interpolate":"linear"},"encoding":{"x":{"field":"ex","type":"quantitative","axis":null},"y":{"field":"lo","type":"quantitative","axis":null},"y2":{"field":"hi"}}},
{"data":{"name":"maskThick"},"mark":{"type":"area","fill":"white","clip":true,"interpolate":"linear"},"encoding":{"x":{"field":"ex","type":"quantitative","axis":null},"y":{"field":"lo","type":"quantitative","axis":null},"y2":{"field":"hi"}}},
{"data":{"name":"maskThin"},"mark":{"type":"area","fill":"white","clip":true,"interpolate":"linear"},"encoding":{"x":{"field":"ex","type":"quantitative","axis":null},"y":{"field":"lo","type":"quantitative","axis":null},"y2":{"field":"hi"}}},
{"data":{"name":"cbox"},"mark":{"type":"rect","fillOpacity":0,"stroke":"#000","strokeWidth":3.5},
"encoding":{
"x":{"field":"ex1","type":"quantitative","axis":{"orient":"top","labels":false,"title":null,"domain":false,"tickSize":-7,"values":[250,300,350,400,450]}},
"x2":{"field":"ex2"},
"y":{"field":"em1","type":"quantitative","axis":{"orient":"right","labels":false,"title":null,"domain":false,"tickSize":-7,"values":[350,400,450,500,550,600]}},
"y2":{"field":"em2"}}},
{"data":{"name":"cbox"},"mark":{"type":"rect","fillOpacity":0,"strokeOpacity":0},
"encoding":{
"x":{"field":"ex1","type":"quantitative","axis":null},
"x2":{"field":"ex2"},
"y":{"field":"em1","type":"quantitative","axis":{"orient":"right","labels":false,"ticks":false,"domain":false,"title":["Standard deviation of","normalized EEM fluorescence"],"titleAngle":270,"titlePadding":88,"titleFont":"Open Sans","titleFontSize":18,"titleLineHeight":25,"titleColor":"#262626","titleFontWeight":"normal"}},
"y2":{"field":"em2"}}},
{"data":{"name":"crossBig"},"mark":{"type":"point","shape":"M-1,0H1M0,-1V1","size":400,"strokeWidth":4,"filled":false,"opacity":1},
"encoding":{"x":{"field":"ex","type":"quantitative","axis":null},"y":{"field":"em","type":"quantitative","axis":null},
"stroke":{"field":"g","type":"nominal","scale":{"domain":["T","D","C","FluI","FrI","HIX"],"range":["#111111","#111111","#111111","#4f87ba","#e8434e","#f7953b"]},"legend":null}}},
{"data":{"name":"crossSmall"},"mark":{"type":"point","shape":"M-1,0H1M0,-1V1","size":256,"strokeWidth":3.5,"filled":false,"opacity":1},
"encoding":{"x":{"field":"ex","type":"quantitative","axis":null},"y":{"field":"em","type":"quantitative","axis":null},
"stroke":{"field":"g","type":"nominal","legend":null}}},
{"data":{"name":"bars"},"mark":{"type":"rule","strokeWidth":4,"opacity":0.75},
"encoding":{"x":{"field":"ex","type":"quantitative","axis":null},"y":{"field":"lo","type":"quantitative","axis":null},"y2":{"field":"hi"},
"stroke":{"field":"g","type":"nominal","legend":null}}},
{"data":{"name":"labels"},"mark":{"type":"text","fontSize":26,"align":"center","baseline":"middle","font":"Liberation Sans"},
"encoding":{"x":{"field":"ex","type":"quantitative","axis":null},"y":{"field":"em","type":"quantitative","axis":null},"text":{"field":"t"},
"fill":{"field":"g","type":"nominal","scale":{"domain":["T","D","C","FluI","FrI","HIX"],"range":["#111111","#111111","#111111","#4f87ba","#e8434e","#f7953b"]},"legend":null}}}
]}
],"spacing":42,"resolve":{"scale":{"color":"independent"}}}
]
}
